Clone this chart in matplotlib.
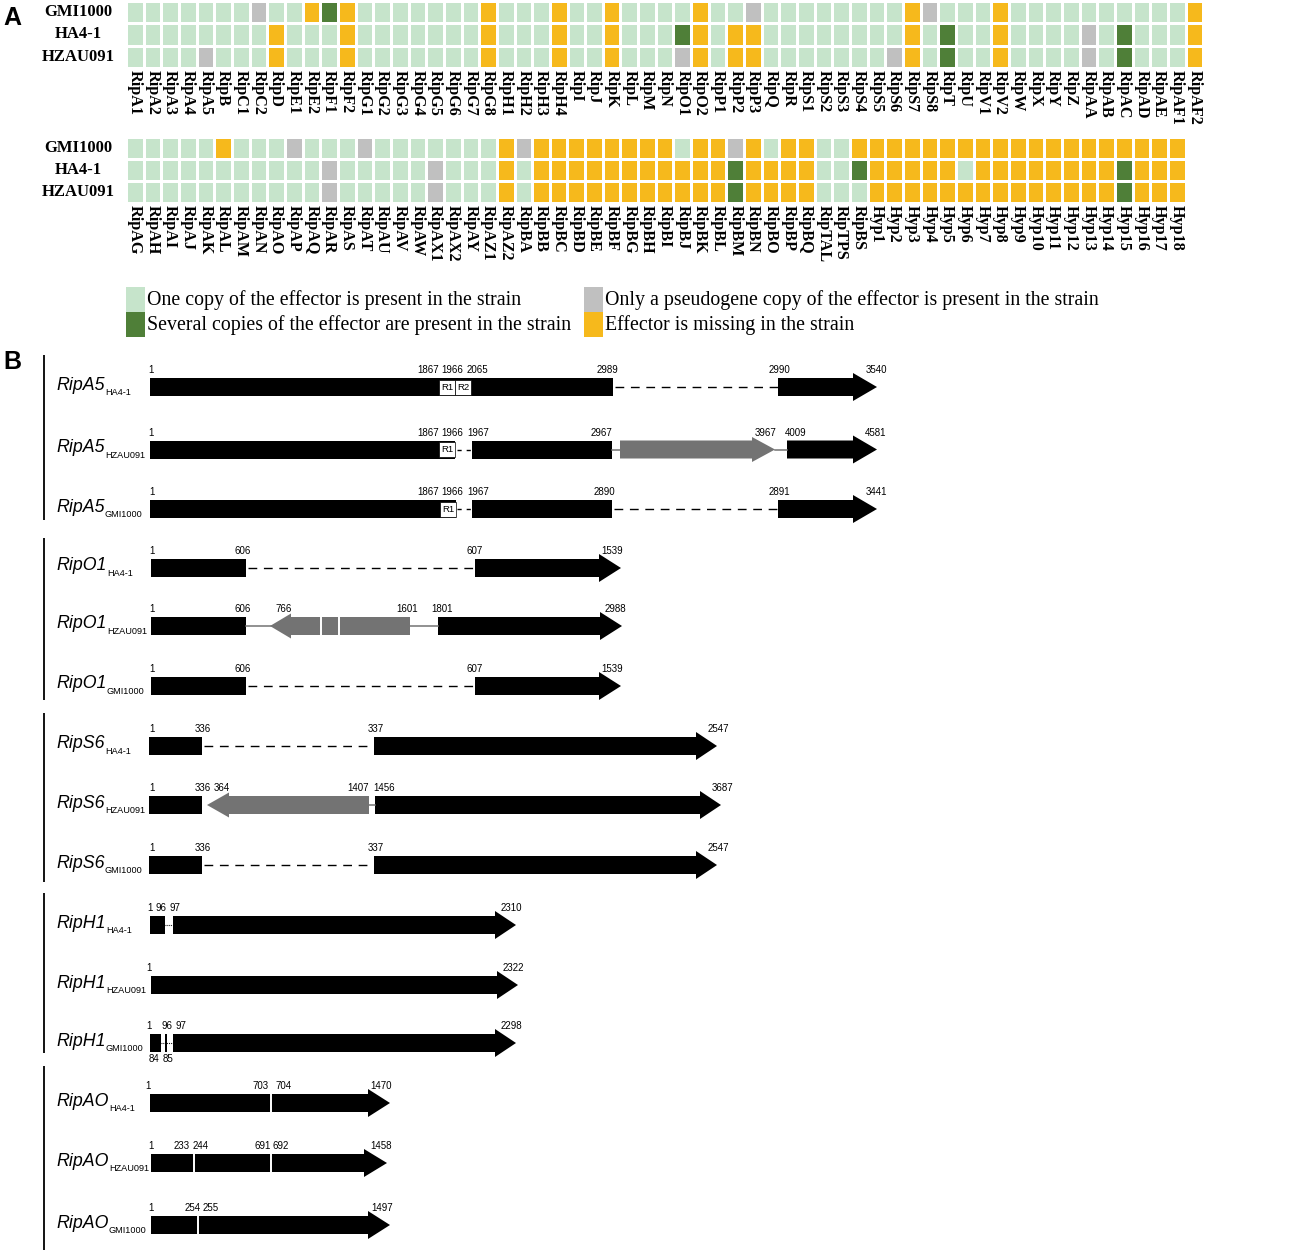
import numpy as np
import matplotlib
matplotlib.use("Agg")
import matplotlib.pyplot as plt
from matplotlib.colors import ListedColormap
from matplotlib.patches import Polygon, Rectangle

# ---------------------------------------------------------------- data: panel A
strains = ["GMI1000", "HA4-1", "HZAU091"]

effectors_top = ["RipA1", "RipA2", "RipA3", "RipA4", "RipA5", "RipB", "RipC1", "RipC2", "RipD", "RipE1",
                 "RipE2", "RipF1", "RipF2", "RipG1", "RipG2", "RipG3", "RipG4", "RipG5", "RipG6", "RipG7",
                 "RipG8", "RipH1", "RipH2", "RipH3", "RipH4", "RipI", "RipJ", "RipK", "RipL", "RipM",
                 "RipN", "RipO1", "RipO2", "RipP1", "RipP2", "RipP3", "RipQ", "RipR", "RipS1", "RipS2",
                 "RipS3", "RipS4", "RipS5", "RipS6", "RipS7", "RipS8", "RipT", "RipU", "RipV1", "RipV2",
                 "RipW", "RipX", "RipY", "RipZ", "RipAA", "RipAB", "RipAC", "RipAD", "RipAE", "RipAF1",
                 "RipAF2"]
effectors_bottom = ["RipAG", "RipAH", "RipAI", "RipAJ", "RipAK", "RipAL", "RipAM", "RipAN", "RipAO", "RipAP",
                    "RipAQ", "RipAR", "RipAS", "RipAT", "RipAU", "RipAV", "RipAW", "RipAX1", "RipAX2", "RipAY",
                    "RipAZ1", "RipAZ2", "RipBA", "RipBB", "RipBC", "RipBD", "RipBE", "RipBF", "RipBG", "RipBH",
                    "RipBI", "RipBJ", "RipBK", "RipBL", "RipBM", "RipBN", "RipBO", "RipBP", "RipBQ", "RipTAL",
                    "RipTPS", "RipBS", "Hyp1", "Hyp2", "Hyp3", "Hyp4", "Hyp5", "Hyp6", "Hyp7", "Hyp8",
                    "Hyp9", "Hyp10", "Hyp11", "Hyp12", "Hyp13", "Hyp14", "Hyp15", "Hyp16", "Hyp17", "Hyp18"]

# o = one copy, s = several copies, p = pseudogene only, m = missing
status_top_GMI1000 = "ooooooopoo" "msmooooooo" "mooomoomoo" "oomoopoooo" "oooompooom" "oooooooooo" "m"
status_top_HA4_1   = "oooooooomo" "oomooooooo" "mooomoomoo" "osmommoooo" "oooomosoom" "ooooposooo" "m"
status_top_HZAU091 = "oooopooomo" "oomooooooo" "mooomoomoo" "opmommoooo" "ooopmosoom" "ooooposooo" "m"

status_bot_GMI1000 = "ooooomooop" "ooopoooooo" "ompmmmmmmm" "mommpmommo" "ommmmmmmmm" "mmmmmmmmmm"
status_bot_HA4_1   = "oooooooooo" "opooooopoo" "omommmmmmm" "mmmmsmmmmo" "osmmmmmomm" "mmmmmmsmmm"
status_bot_HZAU091 = "oooooooooo" "opooooopoo" "omommmmmmm" "mmmmsmmmmo" "oommmmmmmm" "mmmmmmsmmm"

status_keys = ["o", "s", "p", "m"]
status_labels = ["One copy of the effector is present in the strain",
                 "Several copies of the effector are present in the strain",
                 "Only a pseudogene copy of the effector is present in the strain",
                 "Effector is missing in the strain"]
status_colors = ["#C6E4CB", "#4F7F38", "#C0C0C0", "#F6B91C"]

# ---------------------------------------------------------------- data: panel B
gene_names = ["RipA5", "RipO1", "RipS6", "RipH1", "RipAO"]
track_strains = ["HA4-1", "HZAU091", "GMI1000"]

coord_labels = {
    "RipA5": [["1", "1867", "1966", "2065", "2989", "2990", "3540"],
              ["1", "1867", "1966", "1967", "2967", "3967", "4009", "4581"],
              ["1", "1867", "1966", "1967", "2890", "2891", "3441"]],
    "RipO1": [["1", "606", "607", "1539"],
              ["1", "606", "766", "1601", "1801", "2988"],
              ["1", "606", "607", "1539"]],
    "RipS6": [["1", "336", "337", "2547"],
              ["1", "336", "364", "1407", "1456", "3687"],
              ["1", "336", "337", "2547"]],
    "RipH1": [["1", "96", "97", "2310"],
              ["1", "2322"],
              ["1", "96", "97", "2298"]],
    "RipAO": [["1", "703", "704", "1470"],
              ["1", "233", "244", "691", "692", "1458"],
              ["1", "254", "255", "1497"]],
}
coord_labels_below = {("RipH1", 2): ["84", "85"]}

# ---------------------------------------------------------------- layout (pixels)
W, H = 1302, 1250
coord_x = {
    "RipA5": [[151, 428, 452, 477, 607, 779, 876],
              [151, 428, 452, 478, 601, 766, 796, 876],
              [152, 428, 452, 478, 604, 779, 876]],
    "RipO1": [[152, 243, 475, 612],
              [152, 243, 284, 407, 442, 615],
              [152, 243, 475, 612]],
    "RipS6": [[152, 203, 376, 718],
              [152, 203, 222, 358, 384, 722],
              [152, 203, 376, 718]],
    "RipH1": [[150, 161, 175, 511],
              [149, 513],
              [149, 167, 181, 511]],
    "RipAO": [[148, 261, 284, 381],
              [151, 182, 201, 263, 281, 381],
              [151, 193, 211, 382]],
}
coord_x_below = {("RipH1", 2): [154, 168]}

track_parts = {
    "RipA5": [[("bar", 150, 613), ("box", 439, 455, "R1"), ("box", 455, 471, "R2"),
               ("dash", 613, 778), ("arrow", 778, 877, 853, "k")],
              [("bar", 150, 455), ("box", 439, 455, "R1"), ("sdash", 456, 472), ("bar", 472, 612),
               ("line", 612, 620), ("arrow", 620, 775, 752, "g"), ("line", 775, 787),
               ("arrow", 787, 877, 853, "k")],
              [("bar", 150, 456), ("box", 440, 456, "R1"), ("sdash", 456, 472), ("bar", 472, 612),
               ("dash", 612, 778), ("arrow", 778, 877, 853, "k")]],
    "RipO1": [[("bar", 151, 246), ("dash", 246, 475), ("arrow", 475, 621, 599, "k")],
              [("bar", 151, 246), ("line", 246, 272), ("arrow", 410, 270, 291, "g"), ("gap", 321),
               ("gap", 339), ("line", 410, 438), ("arrow", 438, 622, 600, "k")],
              [("bar", 151, 246), ("dash", 246, 475), ("arrow", 475, 621, 599, "k")]],
    "RipS6": [[("bar", 149, 202), ("dash", 202, 374), ("arrow", 374, 717, 696, "k")],
              [("bar", 149, 202), ("arrow", 369, 207, 229, "g"), ("line", 369, 375),
               ("arrow", 375, 721, 700, "k")],
              [("bar", 149, 202), ("dash", 202, 374), ("arrow", 374, 717, 696, "k")]],
    "RipH1": [[("bar", 150, 165), ("dot", 165, 173), ("arrow", 173, 516, 495, "k")],
              [("arrow", 151, 518, 497, "k")],
              [("bar", 150, 161), ("dot", 161, 173), ("vbar", 164.5, 167), ("arrow", 173, 516, 495, "k")]],
    "RipAO": [[("arrow", 150, 390, 368, "k"), ("gap", 271)],
              [("arrow", 151, 387, 364, "k"), ("gap", 194), ("gap", 271)],
              [("arrow", 151, 390, 368, "k"), ("gap", 198)]],
}
group_y = [[387, 449.5, 509], [568, 626, 686], [746, 805, 865], [925, 985, 1043], [1103, 1163, 1225]]
group_line = [(355, 520), (538, 700), (713, 882), (893, 1053), (1066, 1250)]

SERIF = "Liberation Serif"
SANS = "Liberation Sans"
NUM_FS = 7.0
SUB_FS = 6.6

fig = plt.figure(figsize=(W / 100, H / 100), dpi=100)
ax = fig.add_axes([0, 0, 1, 1])
ax.set_xlim(0, W)
ax.set_ylim(H, 0)
ax.axis("off")


def px_axes(x0, y0, x1, y1):
    return fig.add_axes([x0 / W, 1 - y1 / H, (x1 - x0) / W, (y1 - y0) / H])


cmap = ListedColormap(status_colors)
code = {k: i for i, k in enumerate(status_keys)}


def draw_heat(box, names, rows):
    hax = px_axes(*box)
    M = np.array([[code[c] for c in r] for r in rows])
    hax.pcolormesh(M, cmap=cmap, vmin=-0.5, vmax=3.5, edgecolors="white", linewidth=1.0)
    hax.set_xlim(0, len(names))
    hax.set_ylim(len(rows), 0)
    hax.set_xticks(np.arange(len(names)) + 0.5)
    hax.set_xticklabels(names, rotation=-90, fontfamily=SERIF, fontweight="bold",
                        fontsize=11.6, va="top", ha="center")
    hax.tick_params(length=0, pad=1.5)
    hax.set_yticks([])
    for s in hax.spines.values():
        s.set_visible(False)


top_box = (126, 1, 126 + 17.66 * len(effectors_top), 68)
bot_box = (126, 137, 126 + 17.66 * len(effectors_bottom), 203)
draw_heat(top_box, effectors_top, [status_top_GMI1000, status_top_HA4_1, status_top_HZAU091])
draw_heat(bot_box, effectors_bottom, [status_bot_GMI1000, status_bot_HA4_1, status_bot_HZAU091])

for box in (top_box, bot_box):
    rh = (box[3] - box[1]) / 3
    for i, s in enumerate(strains):
        ax.text(78, box[1] + rh * (i + 0.5), s, ha="center", va="center", family=SERIF,
                fontweight="bold", fontsize=12)

ax.text(3, 18, "A", ha="left", va="center", family=SANS, fontweight="bold", fontsize=18)
ax.text(3, 362, "B", ha="left", va="center", family=SANS, fontweight="bold", fontsize=18)

# legend
leg_pos = [(126, 287), (126, 312), (584, 287), (584, 312)]
for (lx, ly), col, lab in zip(leg_pos, status_colors, status_labels):
    ax.add_patch(Rectangle((lx, ly), 19, 25, facecolor=col, edgecolor="none"))
    ax.text(lx + 21, ly + 13, lab, ha="left", va="center", family=SERIF, fontsize=14.3)

# ---------------------------------------------------------------- panel B
BAR_H = 18
GRAY = "#737373"


def draw_arrow(x0, x1, hs, yc, color):
    hh = 28 if color == "black" else 25
    pts = [(x0, yc - BAR_H / 2), (hs, yc - BAR_H / 2), (hs, yc - hh / 2), (x1, yc),
           (hs, yc + hh / 2), (hs, yc + BAR_H / 2), (x0, yc + BAR_H / 2)]
    ax.add_patch(Polygon(pts, closed=True, facecolor=color, edgecolor="none"))


for gi, gname in enumerate(gene_names):
    gy0, gy1 = group_line[gi]
    ax.plot([44, 44], [gy0, gy1], color="black", lw=1.3, solid_capstyle="butt")
    for ti, st in enumerate(track_strains):
        yc = group_y[gi][ti]
        t = ax.text(56, yc + 2.5, gname, ha="left", va="baseline", family=SANS,
                    style="italic", fontsize=12.8)
        ax.annotate(st, xy=(1, 0), xycoords=t, xytext=(0.3, -1.2), textcoords="offset points",
                    ha="left", va="baseline", family=SANS, fontsize=SUB_FS)
        for part in track_parts[gname][ti]:
            kind = part[0]
            if kind == "bar":
                ax.add_patch(Rectangle((part[1], yc - BAR_H / 2), part[2] - part[1], BAR_H,
                                       facecolor="black", edgecolor="none"))
            elif kind == "arrow":
                draw_arrow(part[1], part[2], part[3], yc, "black" if part[4] == "k" else GRAY)
            elif kind == "dash":
                ax.plot([part[1] + 2, part[2]], [yc, yc], color="black", lw=1.0, dashes=(6.3, 4.8))
            elif kind == "sdash":
                ax.plot([part[1] + 1, part[2]], [yc, yc], color="black", lw=1.0, dashes=(3.0, 3.6))
            elif kind == "dot":
                ax.plot([part[1], part[2]], [yc, yc], color="black", lw=0.8, dashes=(0.8, 0.9))
            elif kind == "line":
                ax.plot([part[1], part[2]], [yc, yc], color=GRAY, lw=1.1)
            elif kind == "gap":
                ax.plot([part[1], part[1]], [yc - BAR_H / 2, yc + BAR_H / 2], color="white", lw=1.4)
            elif kind == "vbar":
                ax.add_patch(Rectangle((part[1], yc - BAR_H / 2), part[2] - part[1], BAR_H,
                                       facecolor="black", edgecolor="none"))
            elif kind == "box":
                ax.add_patch(Rectangle((part[1], yc - 7.5), part[2] - part[1], 15,
                                       facecolor="white", edgecolor="black", lw=0.5))
                ax.text((part[1] + part[2]) / 2, yc + 0.5, part[3], ha="center", va="center",
                        family=SANS, fontsize=NUM_FS - 0.2)
        for lab, x in zip(coord_labels[gname][ti], coord_x[gname][ti]):
            ax.text(x, yc - 14, lab, ha="center", va="baseline", family=SANS, fontsize=NUM_FS)
        key = (gname, ti)
        if key in coord_labels_below:
            for lab, x in zip(coord_labels_below[key], coord_x_below[key]):
                ax.text(x, yc + 11, lab, ha="center", va="top", family=SANS, fontsize=NUM_FS)

fig.savefig("out.png", dpi=100)
